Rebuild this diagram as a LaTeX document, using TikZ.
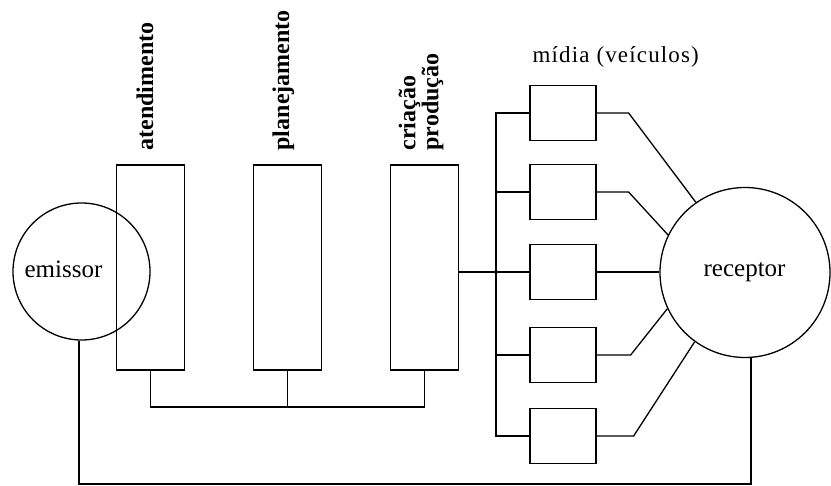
\documentclass[tikz,border=0pt]{standalone}
\usepackage{fontspec}
\setmainfont{Liberation Serif}
\begin{document}
\begin{tikzpicture}[x=1pt,y=-1pt,line width=1.3pt,
  dept/.style={draw,rectangle,minimum width=68pt,minimum height=205pt,inner sep=0pt},
  media/.style={draw,rectangle,minimum width=66pt,minimum height=55pt,inner sep=0pt},
  party/.style={draw,circle,inner sep=0pt},
  vlabel/.style={rotate=90,inner sep=0pt,font=\fontsize{24}{23}\selectfont\bfseries},
  clabel/.style={inner sep=0pt,anchor=base west,font=\fontsize{25}{28}\selectfont}]
\useasboundingbox (0,0) rectangle (831,486);

% sender and receiver
\node[party,minimum size=137pt] (em) at (81.5,271.5) {};
\node[party,minimum size=170pt] (rc) at (745,272.5) {};
\node[clabel] (emtxt) at (24,278) {emissor};
\node[clabel] (rctxt) at (703,277) {receptor};

% agency departments
\node[dept] (at) at (150.5,267.5) {};
\node[dept] (pl) at (287.5,267.5) {};
\node[dept] (cr) at (424.5,267.5) {};
\node[vlabel,anchor=base west] (atl) at (153,151) {atendimento};
\node[vlabel,anchor=base west] (pll) at (289,151) {planejamento};
\node[vlabel,anchor=north west,align=left] (crl) at (398,151) {criação\\produção};

% media vehicles
\node[media] (m1) at (563,113) {};
\node[media] (m2) at (563,192) {};
\node[media] (m3) at (563,272) {};
\node[media] (m4) at (563,355) {};
\node[media] (m5) at (563,436) {};
\node[inner sep=0pt,anchor=base west,
  font=\fontsize{23}{26}\selectfont\addfontfeatures{LetterSpace=5}] (ml) at (532,63) {mídia (veículos)};

% department bus
\coordinate (bus) at (0,407);
\draw (at.south) -- (at.south |- bus) -| (cr.south);
\draw (pl.south) -- (pl.south |- bus);

% distribution to media
\coordinate (mbus) at (496,0);
\draw (cr.east |- m3.west) -- (m3.west);
\draw (m1.west) -- (m1.west -| mbus) -- (m5.west -| mbus) -- (m5.west);
\draw (m2.west -| mbus) -- (m2.west);
\draw (m4.west -| mbus) -- (m4.west);

% media to receiver
\draw (m1.east) -- ++(32,0) -- (rc.125);
\draw (m2.east) -- ++(32,0) -- (rc.154);
\draw (m3.east) -- (rc.west |- m3.east);
\draw (m4.east) -- ++(34,0) -- (rc.205);
\draw (m5.east) -- ++(37,0) -- (rc.234);

% feedback loop
\coordinate (bot) at (0,484);
\draw (em.268) -- (em.268 |- bot) -| (rc.274);
\end{tikzpicture}
\end{document}
